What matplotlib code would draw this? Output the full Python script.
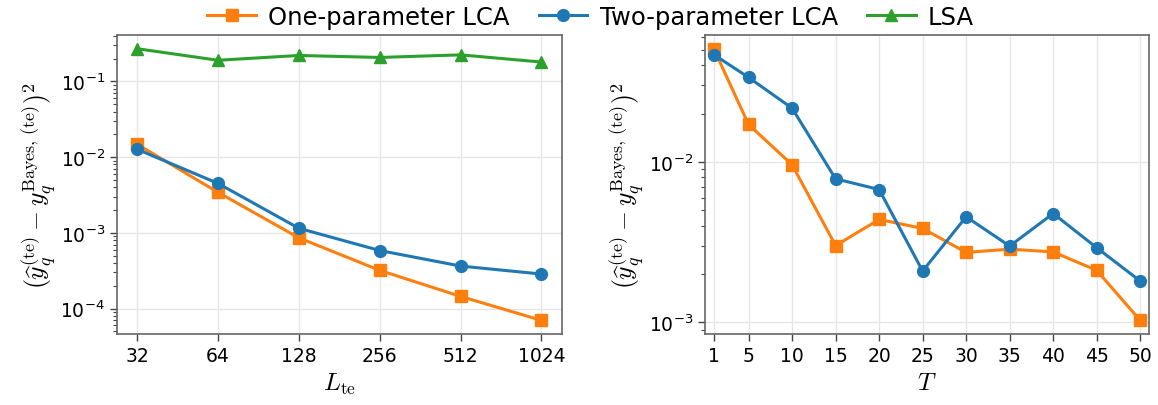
import matplotlib
matplotlib.use('Agg')
import matplotlib.pyplot as plt
import matplotlib.ticker as mticker

# Left panel: error vs test length
l_te = [32, 64, 128, 256, 512, 1024]
one_param_l = [0.0148, 0.00343, 0.00086, 0.00032, 0.000145, 0.000070]
two_param_l = [0.0127, 0.0045, 0.00115, 0.000585, 0.000365, 0.000286]
lsa_l = [0.27, 0.19, 0.22, 0.207, 0.224, 0.18]

# Right panel: error vs T
t_vals = [1, 5, 10, 15, 20, 25, 30, 35, 40, 45, 50]
one_param_t = [0.0507, 0.0171, 0.0096, 0.00301, 0.00438, 0.00385,
               0.00273, 0.00286, 0.00275, 0.00211, 0.00103]
two_param_t = [0.0466, 0.0336, 0.0216, 0.00784, 0.00673, 0.00209,
               0.00455, 0.00299, 0.00477, 0.00292, 0.00181]

plt.rcParams['mathtext.fontset'] = 'cm'
plt.rcParams['font.family'] = 'DejaVu Sans'

ylab = (r'$(\widehat{y}_q^{(\mathrm{te})} - '
        r'y_q^{\mathrm{Bayes},\,(\mathrm{te})})^2$')

fig = plt.figure(figsize=(11.58, 4.06), dpi=100)
ax1 = fig.add_axes([0.101, 0.175, 0.384, 0.736])
ax2 = fig.add_axes([0.609, 0.175, 0.383, 0.736])

style = dict(linewidth=2.2, markersize=8.5)

ax1.plot(l_te, one_param_l, 's-', color='tab:orange', label='One-parameter LCA', **style)
ax1.plot(l_te, two_param_l, 'o-', color='tab:blue', label='Two-parameter LCA', **style)
ax1.plot(l_te, lsa_l, '^-', color='tab:green', label='LSA', **style)
ax1.set_xscale('log', base=2)
ax1.set_yscale('log')
ax1.set_xticks(l_te)
ax1.set_xticklabels([str(v) for v in l_te])
ax1.set_xlabel(r'$L_{\mathrm{te}}$', fontsize=18)

ax2.plot(t_vals, one_param_t, 's-', color='tab:orange', **style)
ax2.plot(t_vals, two_param_t, 'o-', color='tab:blue', **style)
ax2.set_yscale('log')
ax2.set_xticks(t_vals)
ax2.margins(x=0.02)
ax2.set_xlabel(r'$T$', fontsize=18)

for ax in (ax1, ax2):
    ax.set_ylabel(ylab, fontsize=18.5, labelpad=2)
    ax.grid(True, which='major', color='#e6e6e6', linewidth=1)
    ax.set_axisbelow(True)
    for sp in ax.spines.values():
        sp.set_color('#666666')
        sp.set_linewidth(1.2)
    ax.tick_params(which='major', labelsize=13.5, length=5, width=1, color='#444444')
    ax.tick_params(which='minor', length=3, width=0.8, color='#444444')
    ax.xaxis.set_minor_locator(mticker.NullLocator())
    ax.yaxis.set_minor_locator(mticker.LogLocator(base=10, subs=range(2, 10), numticks=20))
    ax.yaxis.set_minor_formatter(mticker.NullFormatter())

fig.legend(loc='upper center', ncol=3, frameon=False, fontsize=17.5,
           bbox_to_anchor=(0.51, 1.04), handlelength=2, columnspacing=1.2,
           handletextpad=0.5)

fig.savefig('out.png', dpi=100)
